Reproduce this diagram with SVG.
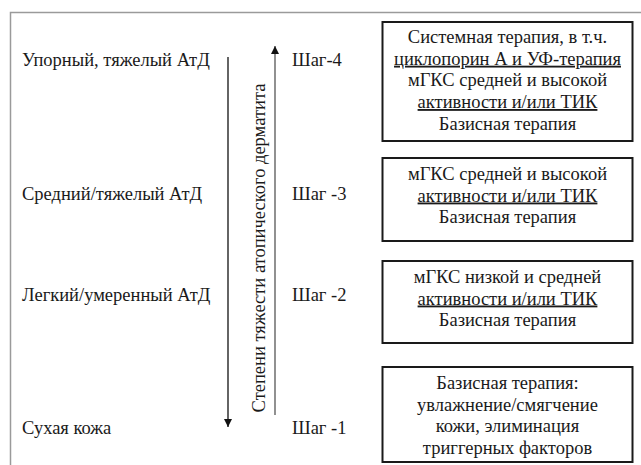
<svg xmlns="http://www.w3.org/2000/svg" width="641" height="465" viewBox="0 0 641 465">
<defs>
<marker id="ah" viewBox="0 0 10 10" refX="10" refY="5" markerWidth="8" markerHeight="9" markerUnits="userSpaceOnUse" orient="auto"><path d="M0,0L10,5L0,10z" fill="#111"/></marker>
</defs>
<rect width="641" height="465" fill="#fff"/>
<path d="M10.5,465V12.5H641" fill="none" stroke="#9a9a9a" stroke-width="1.5"/>
<g id="connectors">
<line x1="228" y1="57" x2="228" y2="427" stroke="#111" stroke-width="1.3" marker-end="url(#ah)"/>
<line x1="275" y1="415" x2="275" y2="46" stroke="#555" stroke-width="1.3" marker-end="url(#ah)"/>
</g>
<g font-size="18.5" fill="#1a1a1a">
<g id="axis-label"><text font-family="Liberation Serif" text-anchor="middle" transform="translate(265,248) rotate(-90)">Степени тяжести атопического дерматита</text></g>
<g id="levels">
<text font-family="Liberation Serif" x="22" y="66">Упорный, тяжелый АтД</text>
<text font-family="Liberation Serif" x="22" y="200">Средний/тяжелый АтД</text>
<text font-family="Liberation Serif" x="22" y="301">Легкий/умеренный АтД</text>
<text font-family="Liberation Serif" x="22" y="434">Сухая кожа</text>
</g>
<g id="steps">
<text font-family="Liberation Serif" x="292" y="66">Шаг-4</text>
<text font-family="Liberation Serif" x="292" y="200">Шаг -3</text>
<text font-family="Liberation Serif" x="292" y="301">Шаг -2</text>
<text font-family="Liberation Serif" x="292" y="434">Шаг -1</text>
</g>
<g id="box4" text-anchor="middle">
<rect x="382.5" y="22" width="250" height="119" fill="#fff" stroke="#1a1a1a" stroke-width="2"/>
<text font-family="Liberation Serif" x="507.5" y="43">Системная терапия, в т.ч.</text>
<text font-family="Liberation Serif" text-decoration="underline" x="507.5" y="64.7">циклопорин А и УФ-терапия</text>
<text font-family="Liberation Serif" x="507.5" y="86.4">мГКС средней и высокой</text>
<text font-family="Liberation Serif" text-decoration="underline" x="507.5" y="108">активности и/или ТИК</text>
<text font-family="Liberation Serif" x="507.5" y="129.7">Базисная терапия</text>
</g>
<g id="box3" text-anchor="middle">
<rect x="382.5" y="158" width="250" height="83" fill="#fff" stroke="#1a1a1a" stroke-width="2"/>
<text font-family="Liberation Serif" x="507.5" y="180">мГКС средней и высокой</text>
<text font-family="Liberation Serif" text-decoration="underline" x="507.5" y="201.5">активности и/или ТИК</text>
<text font-family="Liberation Serif" x="507.5" y="223">Базисная терапия</text>
</g>
<g id="box2" text-anchor="middle">
<rect x="382.5" y="261" width="250" height="82" fill="#fff" stroke="#1a1a1a" stroke-width="2"/>
<text font-family="Liberation Serif" x="507.5" y="283">мГКС низкой и средней</text>
<text font-family="Liberation Serif" text-decoration="underline" x="507.5" y="304.5">активности и/или ТИК</text>
<text font-family="Liberation Serif" x="507.5" y="326">Базисная терапия</text>
</g>
<g id="box1" text-anchor="middle">
<rect x="382.5" y="367" width="250" height="95" fill="#fff" stroke="#1a1a1a" stroke-width="2"/>
<text font-family="Liberation Serif" x="507.5" y="389">Базисная терапия:</text>
<text font-family="Liberation Serif" x="507.5" y="410.5">увлажнение/смягчение</text>
<text font-family="Liberation Serif" x="507.5" y="432">кожи, элиминация</text>
<text font-family="Liberation Serif" x="507.5" y="453.5">триггерных факторов</text>
</g>
</g>
</svg>
